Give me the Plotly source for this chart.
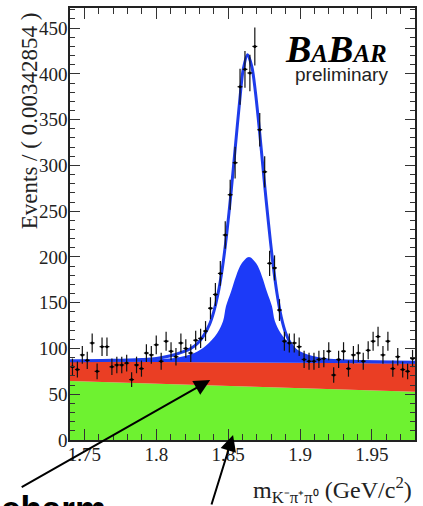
import numpy as np
import plotly.graph_objects as go

# ---------------- data ----------------
x_min, x_max, n_bins = 1.74, 1.98, 70
counts = [80, 77, 93, 87, 106, 75, 102, 102, 80, 82,
          82, 84, 66, 82, 78, 95, 93, 104, 86, 108,
          97, 91, 106, 100, 95, 109, 111, 119, 144, 159,
          182, 224, 268, 303, 386, 405, 401, 430, 339, 293,
          193, 188, 142, 108, 106, 106, 102, 88, 86, 86,
          88, 89, 97, 71, 88, 97, 78, 93, 95, 86,
          98, 108, 113, 93, 108, 78, 91, 77, 75, 89]

# total fit curve
total_x = [1.740, 1.770, 1.790, 1.800, 1.810, 1.818, 1.824, 1.829, 1.833, 1.837,
           1.840, 1.843, 1.846, 1.849, 1.852, 1.855, 1.858, 1.8605, 1.8635, 1.8665,
           1.869, 1.872, 1.875, 1.878, 1.881, 1.884, 1.887, 1.890, 1.894, 1.898,
           1.904, 1.912, 1.925, 1.950, 1.980]
total_y = [86.5, 87, 88, 89, 92, 96, 100, 106, 114, 126,
           140, 160, 188, 225, 270, 320, 370, 405, 421, 408,
           380, 335, 285, 238, 195, 160, 134, 117, 104, 96,
           91, 88, 86.5, 85.5, 85]

# signal (filled blue) component, stacked on the backgrounds
sig_x = [1.740, 1.790, 1.814, 1.8265, 1.8345, 1.8425, 1.8465, 1.8485, 1.852, 1.8555,
         1.8595, 1.8645, 1.8695, 1.8735, 1.877, 1.8805, 1.8825, 1.8865, 1.8945, 1.9025,
         1.915, 1.940, 1.980]
sig_y = [87.5, 88, 90, 95, 103, 117, 130, 146, 162, 179,
         193, 200, 193, 179, 162, 146, 130, 117, 103, 95,
         90, 87.5, 85.5]

# peaking background (red) top and combinatorial background (green) top
bkg_x = [1.74, 1.98]
red_top = [85.7, 83.5]
green_top = [64.5, 52.8]

x_ticks = [1.75, 1.80, 1.85, 1.90, 1.95]
x_ticktext = ["1.75", "1.8", "1.85", "1.9", "1.95"]
y_ticks = [0, 50, 100, 150, 200, 250, 300, 350, 400, 450]

# ---------------- figure ----------------
bw = (x_max - x_min) / n_bins
centers = [x_min + (i + 0.5) * bw for i in range(n_bins)]
errs = np.sqrt(np.array(counts, dtype=float))

GREEN = "rgb(110,242,48)"
RED = "rgb(234,62,36)"
BLUE = "rgb(28,58,248)"
LINE = "rgb(30,60,235)"

fig = go.Figure()
fig.add_trace(go.Scatter(x=bkg_x, y=green_top, mode="lines", line=dict(width=0, color=GREEN),
                         fill="tozeroy", fillcolor=GREEN, hoverinfo="skip"))
fig.add_trace(go.Scatter(x=bkg_x, y=red_top, mode="lines", line=dict(width=0, color=RED),
                         fill="tonexty", fillcolor=RED, hoverinfo="skip"))
fig.add_trace(go.Scatter(x=sig_x, y=sig_y, mode="lines", line=dict(width=0, color=BLUE, shape="spline"),
                         fill="tonexty", fillcolor=BLUE, hoverinfo="skip"))
fig.add_trace(go.Scatter(x=total_x, y=total_y, mode="lines",
                         line=dict(width=3, color=LINE, shape="spline", smoothing=0.8)))
fig.add_trace(go.Scatter(x=centers, y=counts, mode="markers",
                         marker=dict(size=3, color="black"),
                         error_y=dict(type="data", array=errs, width=0, thickness=1.2, color="#111"),
                         error_x=dict(type="constant", value=bw / 2, width=0, thickness=1.2, color="#111")))

serif = "Liberation Serif"
axis_common = dict(showline=True, linecolor="#222", linewidth=1.5, mirror="ticks",
                   ticks="inside", tickcolor="#333", tickwidth=1, showgrid=False, zeroline=False,
                   tickfont=dict(family=serif, size=19, color="#222"))

fig.update_xaxes(range=[x_min, x_max], tickvals=x_ticks, ticktext=x_ticktext, ticklen=11,
                 ticklabelstandoff=-4,
                 minor=dict(ticks="inside", ticklen=6, dtick=0.01, tick0=1.75, tickcolor="#333", showgrid=False),
                 **axis_common)
fig.update_yaxes(range=[0, 472], tickvals=y_ticks, ticklen=10, ticklabelstandoff=-3,
                 minor=dict(ticks="inside", ticklen=5, dtick=10, tick0=0, tickcolor="#333", showgrid=False),
                 **axis_common)

def px2paper(px, py):
    return (px - 70) / 347.0, (440 - py) / 432.0

ann = []
# y title
ax_, ay_ = px2paper(29, 121)
ann.append(dict(x=ax_, y=ay_, xref="paper", yref="paper", xanchor="center", yanchor="middle",
                text="Events / ( 0.00342854 )",
                textangle=-90, showarrow=False, font=dict(family=serif, size=23, color="#222")))
# x title
ax_, ay_ = px2paper(416, 490)
ann.append(dict(x=ax_, y=ay_, xref="paper", yref="paper", xanchor="right", yanchor="middle",
                text="m<sub>K⁻π⁺π⁰</sub> (GeV/c<sup>2</sup>)", showarrow=False,
                font=dict(family=serif, size=24, color="#222")))
# BABAR logo
ax_, ay_ = px2paper(391, 72)
ann.append(dict(x=ax_, y=ay_, xref="paper", yref="paper", xanchor="right", yanchor="bottom",
                text="<b><i>B<span style='font-size:25px'>A</span>B<span style='font-size:25px'>AR</span></i></b>",
                showarrow=False, font=dict(family=serif, size=38, color="black")))
ax_, ay_ = px2paper(392, 74)
ann.append(dict(x=ax_, y=ay_, xref="paper", yref="paper", xanchor="right", yanchor="middle",
                text="preliminary", showarrow=False,
                font=dict(family="Liberation Sans", size=19, color="#222")))
# 'charm' label (cut by the picture bottom)
ax_, ay_ = px2paper(-1, 487)
ann.append(dict(x=ax_, y=ay_, xref="paper", yref="paper", xanchor="left", yanchor="top",
                text="<b>charm</b>", showarrow=False,
                font=dict(family="Liberation Sans", size=35, color="black")))
# arrows (tip position in paper coords, tail as pixel offset)
for tail, tip in [((21, 488), (211, 380)), ((212, 512), (234, 435))]:
    hx, hy = px2paper(*tip)
    ann.append(dict(x=hx, y=hy, xref="paper", yref="paper",
                    ax=tail[0] - tip[0], ay=tail[1] - tip[1], axref="pixel", ayref="pixel",
                    text="", showarrow=True, arrowhead=2, arrowsize=1.6, arrowwidth=2, arrowcolor="black"))

fig.update_layout(width=423, height=506, autosize=False, showlegend=False,
                  margin=dict(l=70, r=6, t=8, b=66),
                  paper_bgcolor="white", plot_bgcolor="white", annotations=ann)

fig.write_html("out.html")
